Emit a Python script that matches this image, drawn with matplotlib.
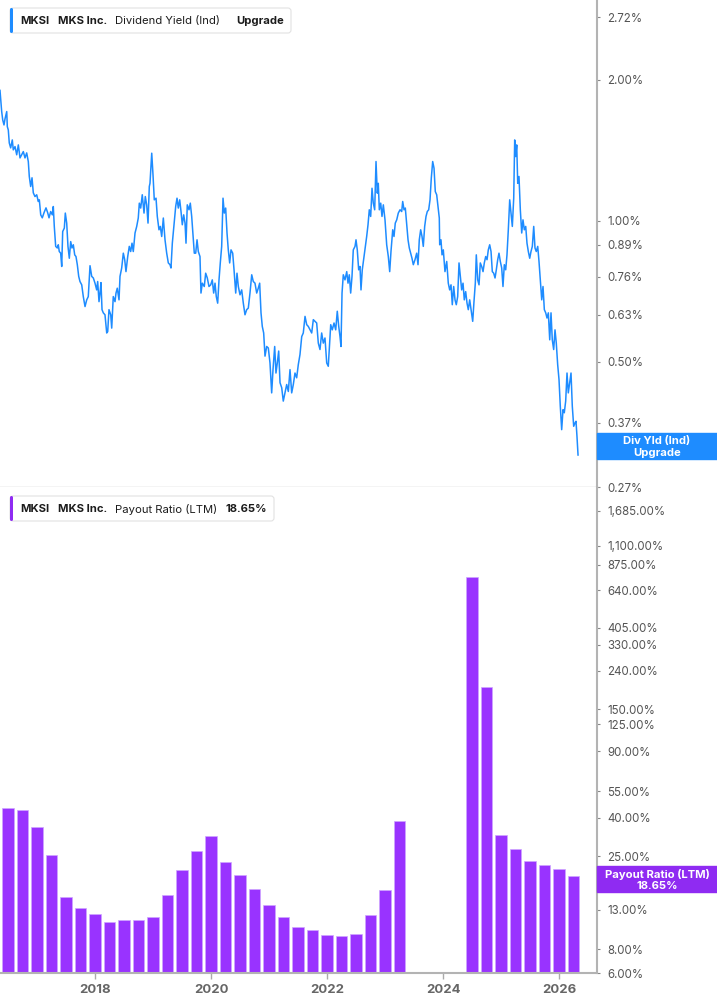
import matplotlib
matplotlib.use("Agg")
import matplotlib.pyplot as plt
import numpy as np
import pandas as pd
from matplotlib.patches import FancyBboxPatch, Rectangle
from matplotlib.ticker import NullLocator
from matplotlib.transforms import IdentityTransform

plt.rcParams['font.family'] = ['Inter', 'DejaVu Sans']

# Dividend yield (Ind), %, decimal years
yld_year = [
    2016.362, 2016.391, 2016.409, 2016.431, 2016.448, 2016.478, 2016.488, 2016.505, 2016.522, 2016.546,
    2016.574, 2016.591, 2016.621, 2016.650, 2016.678, 2016.707, 2016.736, 2016.764, 2016.793, 2016.822,
    2016.850, 2016.867, 2016.891, 2016.914, 2016.936, 2016.965, 2016.995, 2017.022, 2017.040, 2017.064,
    2017.091, 2017.121, 2017.155, 2017.184, 2017.207, 2017.236, 2017.264, 2017.281, 2017.298, 2017.322,
    2017.350, 2017.367, 2017.384, 2017.408, 2017.426, 2017.443, 2017.471, 2017.488, 2017.512, 2017.534,
    2017.557, 2017.581, 2017.603, 2017.626, 2017.650, 2017.672, 2017.695, 2017.719, 2017.741, 2017.771,
    2017.798, 2017.828, 2017.857, 2017.884, 2017.914, 2017.943, 2017.971, 2018.000, 2018.029, 2018.046,
    2018.069, 2018.086, 2018.103, 2018.121, 2018.143, 2018.172, 2018.202, 2018.219, 2018.241, 2018.271,
    2018.288, 2018.315, 2018.345, 2018.362, 2018.384, 2018.414, 2018.431, 2018.460, 2018.488, 2018.512,
    2018.534, 2018.564, 2018.591, 2018.615, 2018.638, 2018.660, 2018.690, 2018.719, 2018.746, 2018.764,
    2018.788, 2018.815, 2018.845, 2018.867, 2018.891, 2018.914, 2018.936, 2018.948, 2018.978, 2019.000,
    2019.022, 2019.052, 2019.074, 2019.103, 2019.126, 2019.150, 2019.178, 2019.207, 2019.236, 2019.264,
    2019.293, 2019.310, 2019.333, 2019.367, 2019.391, 2019.414, 2019.436, 2019.460, 2019.483, 2019.505,
    2019.529, 2019.552, 2019.569, 2019.591, 2019.621, 2019.643, 2019.667, 2019.695, 2019.712, 2019.736,
    2019.759, 2019.781, 2019.810, 2019.827, 2019.850, 2019.884, 2019.908, 2019.936, 2019.965, 2019.995,
    2020.022, 2020.046, 2020.069, 2020.091, 2020.115, 2020.138, 2020.160, 2020.184, 2020.207, 2020.229,
    2020.253, 2020.276, 2020.298, 2020.322, 2020.345, 2020.374, 2020.397, 2020.426, 2020.448, 2020.471,
    2020.500, 2020.529, 2020.557, 2020.586, 2020.615, 2020.643, 2020.672, 2020.702, 2020.729, 2020.758,
    2020.788, 2020.815, 2020.839, 2020.862, 2020.884, 2020.908, 2020.931, 2020.960, 2020.988, 2021.017,
    2021.046, 2021.069, 2021.098, 2021.120, 2021.143, 2021.167, 2021.190, 2021.219, 2021.246, 2021.276,
    2021.305, 2021.333, 2021.362, 2021.391, 2021.419, 2021.448, 2021.477, 2021.505, 2021.534, 2021.564,
    2021.591, 2021.621, 2021.650, 2021.677, 2021.707, 2021.736, 2021.764, 2021.793, 2021.822, 2021.850,
    2021.879, 2021.908, 2021.936, 2021.965, 2021.995, 2022.022, 2022.039, 2022.064, 2022.091, 2022.121,
    2022.150, 2022.177, 2022.202, 2022.224, 2022.241, 2022.259, 2022.281, 2022.310, 2022.340, 2022.362,
    2022.384, 2022.408, 2022.431, 2022.453, 2022.483, 2022.500, 2022.522, 2022.546, 2022.569, 2022.586,
    2022.608, 2022.638, 2022.660, 2022.684, 2022.707, 2022.729, 2022.753, 2022.776, 2022.798, 2022.822,
    2022.845, 2022.867, 2022.884, 2022.902, 2022.926, 2022.948, 2022.971, 2023.000, 2023.029, 2023.057,
    2023.081, 2023.103, 2023.133, 2023.155, 2023.177, 2023.202, 2023.229, 2023.259, 2023.288, 2023.305,
    2023.328, 2023.350, 2023.374, 2023.397, 2023.419, 2023.443, 2023.465, 2023.488, 2023.517, 2023.546,
    2023.569, 2023.591, 2023.615, 2023.638, 2023.660, 2023.684, 2023.707, 2023.729, 2023.753, 2023.776,
    2023.798, 2023.822, 2023.845, 2023.867, 2023.891, 2023.914, 2023.936, 2023.943, 2023.965, 2023.983,
    2024.005, 2024.034, 2024.064, 2024.091, 2024.115, 2024.138, 2024.160, 2024.184, 2024.207, 2024.229,
    2024.253, 2024.276, 2024.298, 2024.322, 2024.345, 2024.367, 2024.391, 2024.414, 2024.436, 2024.460,
    2024.483, 2024.512, 2024.534, 2024.557, 2024.574, 2024.598, 2024.621, 2024.643, 2024.667, 2024.690,
    2024.712, 2024.736, 2024.759, 2024.781, 2024.805, 2024.828, 2024.850, 2024.874, 2024.897, 2024.919,
    2024.943, 2024.965, 2024.988, 2025.012, 2025.034, 2025.057, 2025.081, 2025.103, 2025.126, 2025.150,
    2025.172, 2025.195, 2025.219, 2025.236, 2025.253, 2025.271, 2025.288, 2025.310, 2025.333, 2025.357,
    2025.379, 2025.402, 2025.426, 2025.448, 2025.471, 2025.495, 2025.517, 2025.540, 2025.564, 2025.586,
    2025.608, 2025.633, 2025.655, 2025.677, 2025.702, 2025.724, 2025.747, 2025.771, 2025.793, 2025.816,
    2025.840, 2025.862, 2025.884, 2025.908, 2025.931, 2025.953, 2025.977, 2026.000, 2026.022, 2026.046,
    2026.069, 2026.091, 2026.115, 2026.138, 2026.160, 2026.184, 2026.207, 2026.229, 2026.253, 2026.276,
    2026.293, 2026.310, 2026.328,
]
yld_pct = [
    1.900, 1.712, 1.643, 1.603, 1.651, 1.712, 1.590, 1.564, 1.467, 1.432,
    1.489, 1.418, 1.441, 1.384, 1.453, 1.363, 1.384, 1.406, 1.363, 1.397,
    1.339, 1.244, 1.184, 1.236, 1.148, 1.127, 1.137, 1.100, 1.109, 1.030,
    1.015, 1.041, 1.066, 1.041, 1.015, 1.047, 1.030, 1.073, 0.973, 0.882,
    0.875, 0.889, 0.860, 0.853, 0.799, 0.949, 0.965, 1.039, 0.989, 0.882,
    0.832, 0.903, 0.875, 0.889, 0.846, 0.839, 0.806, 0.761, 0.742, 0.730,
    0.689, 0.656, 0.678, 0.689, 0.802, 0.761, 0.755, 0.736, 0.712, 0.742,
    0.672, 0.701, 0.738, 0.646, 0.636, 0.630, 0.576, 0.580, 0.646, 0.630,
    0.590, 0.689, 0.672, 0.701, 0.718, 0.678, 0.761, 0.793, 0.853, 0.826,
    0.779, 0.839, 0.882, 0.860, 0.896, 0.860, 0.942, 0.973, 1.014, 1.091,
    1.065, 1.137, 1.039, 1.127, 1.082, 0.989, 1.184, 1.203, 1.395, 1.254,
    1.109, 1.118, 1.022, 0.957, 0.973, 0.926, 1.014, 0.911, 0.853, 0.813,
    0.806, 0.793, 0.896, 0.997, 1.073, 1.118, 1.065, 1.109, 1.047, 0.981,
    1.030, 0.989, 0.896, 1.082, 1.056, 1.091, 1.022, 0.911, 0.853, 0.853,
    0.911, 0.860, 0.839, 0.701, 0.736, 0.724, 0.773, 0.755, 0.724, 0.730,
    0.748, 0.701, 0.736, 0.689, 0.667, 0.748, 0.813, 0.882, 1.118, 1.039,
    1.065, 0.942, 0.867, 0.813, 0.867, 0.853, 0.786, 0.701, 0.773, 0.724,
    0.695, 0.712, 0.667, 0.630, 0.646, 0.651, 0.701, 0.767, 0.742, 0.736,
    0.701, 0.718, 0.736, 0.636, 0.595, 0.576, 0.514, 0.539, 0.535, 0.497,
    0.429, 0.481, 0.539, 0.473, 0.497, 0.527, 0.451, 0.440, 0.412, 0.429,
    0.447, 0.432, 0.481, 0.429, 0.447, 0.473, 0.462, 0.493, 0.518, 0.566,
    0.576, 0.625, 0.600, 0.595, 0.585, 0.576, 0.615, 0.610, 0.605, 0.548,
    0.531, 0.576, 0.548, 0.562, 0.497, 0.489, 0.531, 0.600, 0.585, 0.605,
    0.585, 0.641, 0.595, 0.566, 0.539, 0.701, 0.767, 0.748, 0.779, 0.736,
    0.767, 0.701, 0.761, 0.867, 0.882, 0.911, 0.867, 0.786, 0.799, 0.712,
    0.786, 0.839, 0.882, 0.926, 0.981, 1.056, 1.022, 1.174, 1.091, 1.056,
    1.339, 1.146, 1.203, 1.056, 1.091, 1.022, 1.082, 1.005, 0.889, 0.839,
    0.779, 0.860, 0.957, 0.926, 0.989, 1.005, 1.039, 1.056, 1.047, 1.100,
    1.056, 1.065, 0.981, 0.911, 0.875, 0.853, 0.832, 0.806, 0.826, 0.853,
    0.806, 0.911, 0.957, 0.926, 0.882, 0.973, 1.022, 1.047, 1.056, 1.109,
    1.234, 1.339, 1.296, 1.155, 1.137, 1.073, 1.014, 0.889, 0.911, 0.846,
    0.867, 0.779, 0.819, 0.736, 0.712, 0.730, 0.662, 0.724, 0.678, 0.662,
    0.689, 0.813, 0.761, 0.712, 0.736, 0.678, 0.706, 0.667, 0.646, 0.678,
    0.646, 0.610, 0.672, 0.736, 0.846, 0.748, 0.730, 0.813, 0.799, 0.779,
    0.813, 0.839, 0.826, 0.867, 0.889, 0.860, 0.779, 0.773, 0.755, 0.786,
    0.826, 0.853, 0.819, 0.793, 0.724, 0.806, 0.786, 0.846, 0.957, 1.109,
    1.039, 0.973, 1.118, 1.489, 1.372, 1.453, 1.203, 1.244, 1.056, 0.942,
    1.005, 0.957, 0.973, 0.896, 0.860, 0.832, 0.860, 0.882, 0.973, 0.875,
    0.860, 0.882, 0.819, 0.748, 0.678, 0.724, 0.646, 0.636, 0.620, 0.636,
    0.557, 0.636, 0.557, 0.531, 0.585, 0.548, 0.493, 0.458, 0.402, 0.358,
    0.395, 0.389, 0.412, 0.473, 0.429, 0.451, 0.473, 0.402, 0.364, 0.370,
    0.373, 0.346, 0.316,
]
assert len(yld_year) == len(yld_pct)

# Payout ratio (LTM), %, quarterly 2016Q2 .. 2026Q1 (None = no bar)
payout_pct = [
    44.2, 42.9, 34.7, 24.2, 14.1, 12.3, 11.3, 10.2, 10.5, 10.5,
    10.9, 14.5, 20.2, 25.7, 31.0, 22.3, 18.8, 15.8, 12.7, 10.9,
    9.5, 9.1, 8.55, 8.4, 8.7, 11.2, 15.6, 37.2,
    None, None, None, None,
    752.0, 196.0, 31.5, 26.2, 22.6, 21.3, 20.3, 18.65,
]
payout_quarters = pd.period_range("2016Q2", "2026Q1", freq="Q")

yld_ticks = [2.72, 2.00, 1.00, 0.89, 0.76, 0.63, 0.50, 0.37, 0.32, 0.27]
payout_ticks = [1685, 1100, 875, 640, 405, 330, 240, 150, 125, 90, 55, 40, 25, 18, 13, 8, 6]
year_ticks = [2018, 2020, 2022, 2024, 2026]

BLUE = "#1E8CFF"
PURPLE = "#9933FF"
PURPLE_BOX = "#8F2BF2"
TXT = "#1c1c1c"

W, H = 717, 1005
fig = plt.figure(figsize=(W / 100, H / 100), dpi=100)


def fx(px):
    return px / W


def fy(py):
    return 1 - py / H


def pbox(x0, y0, x1, y1, **kw):
    # rectangle given in picture pixels (top-left origin)
    return FancyBboxPatch((x0, H - y1), x1 - x0, y1 - y0, transform=IdentityTransform(), **kw)


XMIN, XMAX = 2016.362, 2026.655

# ---- top panel: dividend yield
ax1 = fig.add_axes([0, fy(487), fx(597), 487 / H])
ax1.plot(yld_year, yld_pct, color=BLUE, lw=1.1)
ax1.set_yscale("log")
ax1.set_ylim(0.2704, 2.964)
ax1.set_xlim(XMIN, XMAX)
ax1.set_xticks([])
ax1.yaxis.tick_right()
ax1.set_yticks(yld_ticks)
ax1.set_yticklabels([f"{v:.2f}%" for v in yld_ticks])
ax1.yaxis.set_minor_locator(NullLocator())

# ---- bottom panel: payout ratio
ax2 = fig.add_axes([0, fy(973), fx(597), (973 - 487) / H])
bx = [q.year + q.quarter / 4 for q, v in zip(payout_quarters, payout_pct) if v is not None]
bh = [v for v in payout_pct if v is not None]
ax2.bar(bx, bh, width=0.19, bottom=1, color=PURPLE, edgecolor="#cfa6ff", linewidth=0.5)
ax2.set_yscale("log")
ax2.set_ylim(6, 2258)
ax2.set_xlim(XMIN, XMAX)
ax2.yaxis.tick_right()
ax2.set_yticks(payout_ticks)
ax2.set_yticklabels([f"{v:,.2f}%" for v in payout_ticks])
ax2.yaxis.set_minor_locator(NullLocator())
ax2.set_xticks(year_ticks)
ax2.set_xticklabels([str(y) for y in year_ticks], fontweight="bold")
ax2.tick_params(axis="x", length=4, width=1, color="#aaaaaa", labelcolor="#666666",
                labelsize=9.5, pad=4)

for ax in (ax1, ax2):
    ax.set_facecolor("white")
    ax.spines["top"].set_visible(False)
    ax.spines["left"].set_visible(False)
    ax.spines["right"].set_color("#b3b3b3")
    ax.spines["right"].set_linewidth(1.5)
    ax.tick_params(axis="y", which="major", right=True, left=False, labelright=True,
                   labelleft=False, length=2.5, width=0.8, color="#888888",
                   labelcolor="#555555", labelsize=8.3, pad=5)
ax1.spines["bottom"].set_color("#c8c8c8")
ax1.spines["bottom"].set_linewidth(1.0)
ax2.spines["bottom"].set_color("#b3b3b3")
ax2.spines["bottom"].set_linewidth(1.5)

# ---- legend chips
for (x0, y0, x1, y1, col) in [(10, 8, 291, 33, BLUE), (10, 496, 274, 521, PURPLE_BOX)]:
    fig.add_artist(pbox(x0, y0, x1, y1, boxstyle="round,pad=0,rounding_size=3",
                        fc="white", ec="#e2e2e2", lw=0.8, zorder=5))
    fig.add_artist(pbox(x0, y0, x0 + 3, y1, boxstyle="round,pad=0,rounding_size=1.5",
                        fc=col, ec="none", zorder=6))

chip_top = [("MKSI", 20.7, "bold"), ("MKS Inc.", 58.3, "bold"),
            ("Dividend Yield (Ind)", 115, "normal"), ("Upgrade", 236, "bold")]
for s, x, w in chip_top:
    fig.text(fx(x), fy(21), s, ha="left", va="center", fontsize=8.1, fontweight=w,
             color=TXT, zorder=7)
chip_bot = [("MKSI", 20.7, "bold"), ("MKS Inc.", 58.3, "bold"),
            ("Payout Ratio (LTM)", 115, "normal"), ("18.65%", 226, "bold")]
for s, x, w in chip_bot:
    fig.text(fx(x), fy(509), s, ha="left", va="center", fontsize=8.1, fontweight=w,
             color=TXT, zorder=7)

# ---- last value tags on the right axis
fig.add_artist(Rectangle((fx(597), fy(459)), fx(120), 26 / H, transform=fig.transFigure,
                         color=BLUE, zorder=10))
fig.text(fx(657), fy(441), "Div Yld (Ind)", ha="center", va="center", color="white",
         fontsize=8.1, fontweight="bold", zorder=11)
fig.text(fx(657), fy(452.5), "Upgrade", ha="center", va="center", color="white",
         fontsize=8.1, fontweight="bold", zorder=11)

fig.add_artist(Rectangle((fx(597), fy(892)), fx(120), 26 / H, transform=fig.transFigure,
                         color=PURPLE_BOX, zorder=10))
fig.text(fx(657), fy(874), "Payout Ratio (LTM)", ha="center", va="center", color="white",
         fontsize=8.1, fontweight="bold", zorder=11)
fig.text(fx(657), fy(885.5), "18.65%", ha="center", va="center", color="white",
         fontsize=8.1, fontweight="bold", zorder=11)

fig.savefig("out.png", dpi=100, facecolor="white")
